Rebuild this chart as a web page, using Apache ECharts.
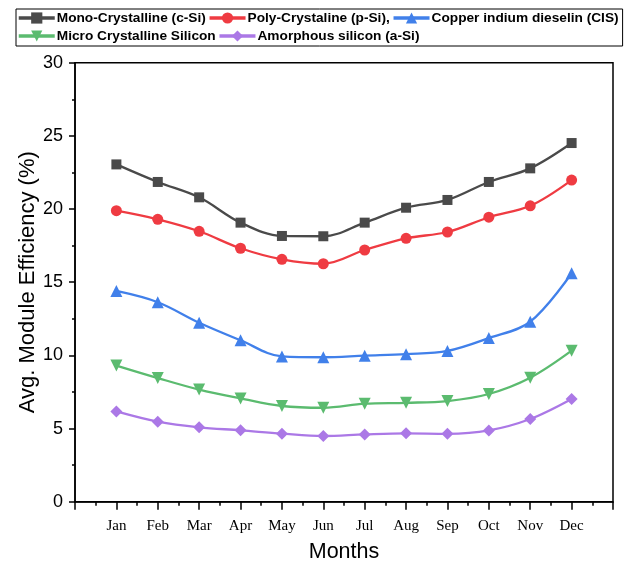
<!DOCTYPE html>
<html>
<head>
<meta charset="utf-8">
<script src="https://cdn.jsdelivr.net/npm/echarts@6/dist/echarts.min.js"></script>
<style>
  html, body { margin: 0; padding: 0; background: #fff; }
  #chart { width: 627px; height: 564px; }
</style>
</head>
<body>
<div id="chart"></div>
<script>
// Month labels and their positions on the x scale
const months = ['Jan', 'Feb', 'Mar', 'Apr', 'May', 'Jun', 'Jul', 'Aug', 'Sep', 'Oct', 'Nov', 'Dec'];
const monthPos = [1, 2, 3, 4, 5, 6, 7, 8, 9, 10, 11, 12];

// Average module efficiency (%) per month for each technology
const monoSi   = [23.05, 21.85, 20.80, 19.07, 18.16, 18.14, 19.07, 20.09, 20.62, 21.85, 22.78, 24.51];
const polySi   = [19.89, 19.30, 18.48, 17.32, 16.56, 16.26, 17.20, 18.00, 18.43, 19.44, 20.22, 21.98];
const cis      = [14.40, 13.63, 12.23, 11.03, 9.93, 9.87, 9.98, 10.08, 10.30, 11.18, 12.30, 15.61];
const microSi  = [9.30, 8.45, 7.66, 7.06, 6.54, 6.42, 6.70, 6.76, 6.88, 7.36, 8.47, 10.32];
const amorphSi = [6.17, 5.47, 5.08, 4.88, 4.65, 4.49, 4.60, 4.67, 4.64, 4.87, 5.65, 7.02];

// Y axis ticks
const yTicks = [0, 5, 10, 15, 20, 25, 30];

const pair = arr => arr.map((v, i) => [monthPos[i], v]);

const seriesDefs = [
  { name: 'Mono-Crystalline (c-Si)', data: monoSi, color: '#4a4a4a', symbol: 'rect', size: 10 },
  { name: 'Poly-Crystaline (p-Si),', data: polySi, color: '#ef3b42', symbol: 'circle', size: 11 },
  { name: 'Copper indium dieselin (CIS)', data: cis, color: '#4180ea', symbol: 'triangle', size: 12 },
  { name: 'Micro Crystalline Silicon', data: microSi, color: '#5bbb6f', symbol: 'path://M0,0 L10,0 L5,9 Z', size: 12 },
  { name: 'Amorphous silicon (a-Si)', data: amorphSi, color: '#ab78e6', symbol: 'diamond', size: 12 }
];

const chart = echarts.init(document.getElementById('chart'), null, { renderer: 'canvas' });

chart.setOption({
  animation: false,
  backgroundColor: '#ffffff',
  textStyle: { fontFamily: 'Liberation Sans, Arial, sans-serif' },
  legend: {
    left: 16,
    top: 9,
    width: 640,
    padding: [1, 4, 2, 1],
    itemGap: 2,
    itemWidth: 36,
    itemHeight: 14,
    borderColor: '#000',
    borderWidth: 1,
    lineStyle: { width: 3.5 },
    textStyle: { fontSize: 13.7, fontWeight: 'bold', color: '#000', padding: [0, 0, 0, -3], lineHeight: 16 },
    data: seriesDefs.map(s => s.name)
  },
  grid: {
    left: 75,
    right: 14,
    top: 62.7,
    bottom: 62.3,
    show: true,
    borderColor: '#000',
    borderWidth: 1.5,
    containLabel: false,
    outerBoundsMode: 'none'
  },
  xAxis: {
    type: 'value',
    min: 0,
    max: 13,
    interval: 1,
    name: 'Months',
    nameLocation: 'middle',
    nameGap: 39,
    nameMoveOverlap: false,
    nameTextStyle: { fontSize: 21.5, color: '#000' },
    axisLine: { show: true, lineStyle: { color: '#000', width: 1.5 } },
    axisTick: { show: true, length: 8, inside: false, lineStyle: { color: '#000', width: 1.5 } },
    minorTick: { show: true, splitNumber: 2, length: 4, lineStyle: { color: '#000', width: 1.5 } },
    splitLine: { show: false },
    axisLabel: {
      margin: 17,
      fontFamily: 'Liberation Serif, Times New Roman, serif',
      fontSize: 15,
      color: '#000',
      showMinLabel: false,
      showMaxLabel: false,
      formatter: v => {
        const i = monthPos.indexOf(v);
        return i >= 0 ? months[i] : '';
      }
    }
  },
  yAxis: {
    type: 'value',
    min: yTicks[0],
    max: yTicks[yTicks.length - 1],
    interval: 5,
    name: 'Avg. Module Efficiency (%)',
    nameLocation: 'middle',
    nameGap: 36,
    nameMoveOverlap: false,
    nameTextStyle: { fontSize: 22, color: '#000' },
    axisLine: { show: true, lineStyle: { color: '#000', width: 1.5 } },
    axisTick: { show: true, length: 6, lineStyle: { color: '#000', width: 1.5 } },
    minorTick: { show: true, splitNumber: 2, length: 3, lineStyle: { color: '#000', width: 1.5 } },
    splitLine: { show: false },
    axisLabel: { margin: 12, fontSize: 18, color: '#000' }
  },
  series: seriesDefs.map(s => ({
    name: s.name,
    type: 'line',
    data: pair(s.data),
    smooth: 0.35,
    symbol: s.symbol,
    symbolSize: s.size,
    showSymbol: true,
    itemStyle: { color: s.color },
    lineStyle: { color: s.color, width: 2.3 },
    emphasis: { disabled: true }
  }))
});
</script>
</body>
</html>
